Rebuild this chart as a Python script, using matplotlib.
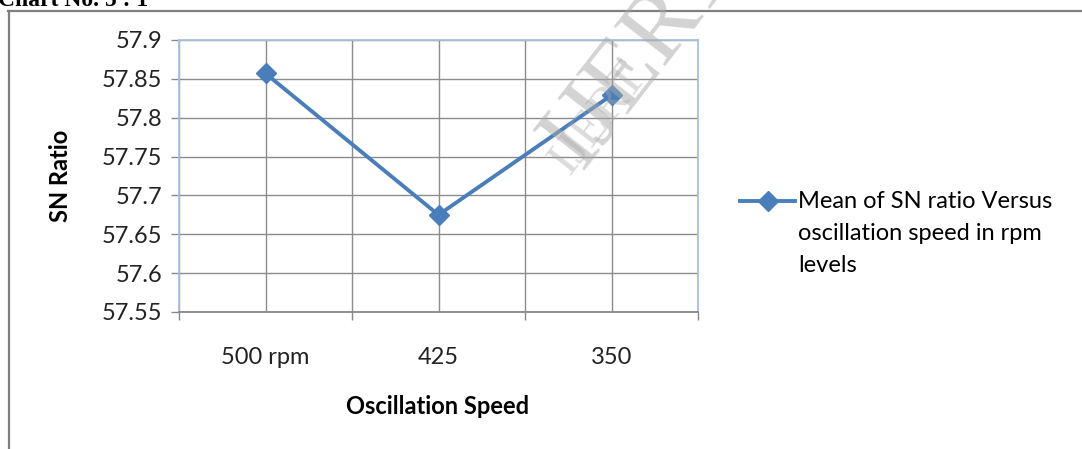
import numpy as np
import matplotlib.pyplot as plt
from matplotlib.lines import Line2D

plt.rcParams['font.family'] = ['Lato', 'DejaVu Sans']

# mean SN ratio for each oscillation speed level
speeds = ['500 rpm', '425', '350']
sn_ratio = [57.857, 57.675, 57.829]
y_ticks = [57.55, 57.6, 57.65, 57.7, 57.75, 57.8, 57.85, 57.9]
y_labels = ['57.55', '57.6', '57.65', '57.7', '57.75', '57.8', '57.85', '57.9']
legend_lines = ['Mean of SN ratio Versus', 'oscillation speed in rpm', 'levels']

W, H = 1082, 449
fig = plt.figure(figsize=(W / 100, H / 100), dpi=100)

def px(x, y):
    return x / W, 1 - y / H

ax = fig.add_axes([179 / W, 1 - 312 / H, 519 / W, 272 / H])

blue = '#4a7ebb'
fs = 17
x = np.arange(len(speeds))
ax.plot(x, sn_ratio, color=blue, lw=2.8, marker='D', markersize=10,
        markeredgecolor=blue, zorder=3, clip_on=False)

ax.set_xlim(-0.5, len(speeds) - 0.5)
ax.set_ylim(y_ticks[0], y_ticks[-1])
ax.set_yticks(y_ticks)
ax.set_yticklabels(y_labels, fontsize=fs, color='#222222')
ax.set_xticks(x)
ax.set_xticklabels(speeds, fontsize=fs, color='#222222')
ax.set_xticks(np.arange(-0.5, len(speeds)), minor=True)

ax.tick_params(axis='x', which='major', length=0, pad=25)
ax.tick_params(axis='x', which='minor', length=6, width=1, color='#888888', direction='out')
ax.tick_params(axis='y', length=6, width=1, color='#888888', pad=6)

ax.grid(True, which='both', color='#8c8c8c', lw=1)
ax.set_axisbelow(True)
for s in ax.spines.values():
    s.set_color('#a8c0e4')
    s.set_linewidth(1.3)
ax.spines['bottom'].set_color('#888888')

fig.text(*px(438, 406), 'Oscillation Speed', fontsize=fs, fontweight='bold',
         ha='center', va='center')
fig.text(*px(60, 176), 'SN Ratio', fontsize=fs, fontweight='bold',
         rotation=90, ha='center', va='center')

# legend, drawn by hand so the marker sits on the first text line
lx0, lx1, ly = 740, 795, 201
fig.add_artist(Line2D([lx0 / W, lx1 / W], [1 - ly / H] * 2, color=blue, lw=2.8))
fig.add_artist(Line2D([(lx0 + lx1) / 2 / W], [1 - ly / H], color=blue,
                      marker='D', markersize=10))
for i, line in enumerate(legend_lines):
    fig.text(*px(798, ly + 32 * i), line, fontsize=fs, ha='left', va='center')

# outer frame
fig.add_artist(Line2D([8.5 / W, 8.5 / W], [1 - 11 / H, 0], color='#7f7f7f', lw=1.6))
fig.add_artist(Line2D([8 / W, 1], [1 - 11 / H, 1 - 11 / H], color='#7f7f7f', lw=1.6))

# heading above the frame
fig.text(-2 / W, 1 - 6 / H, 'Chart No. 5 : 1', fontsize=17, fontweight='bold',
         family=['Liberation Serif'], ha='left', va='baseline')

# watermark
fig.text(*px(640, 55), 'IJERT', fontsize=72, family=['Liberation Serif'],
         color='#a8a8a8', alpha=0.5, rotation=52, ha='center', va='center')
fig.text(*px(598, 118), 'IJERT', fontsize=36, family=['Liberation Serif'],
         color='#a8a8a8', alpha=0.4, rotation=52, ha='center', va='center')

fig.savefig('out.png', dpi=100)
